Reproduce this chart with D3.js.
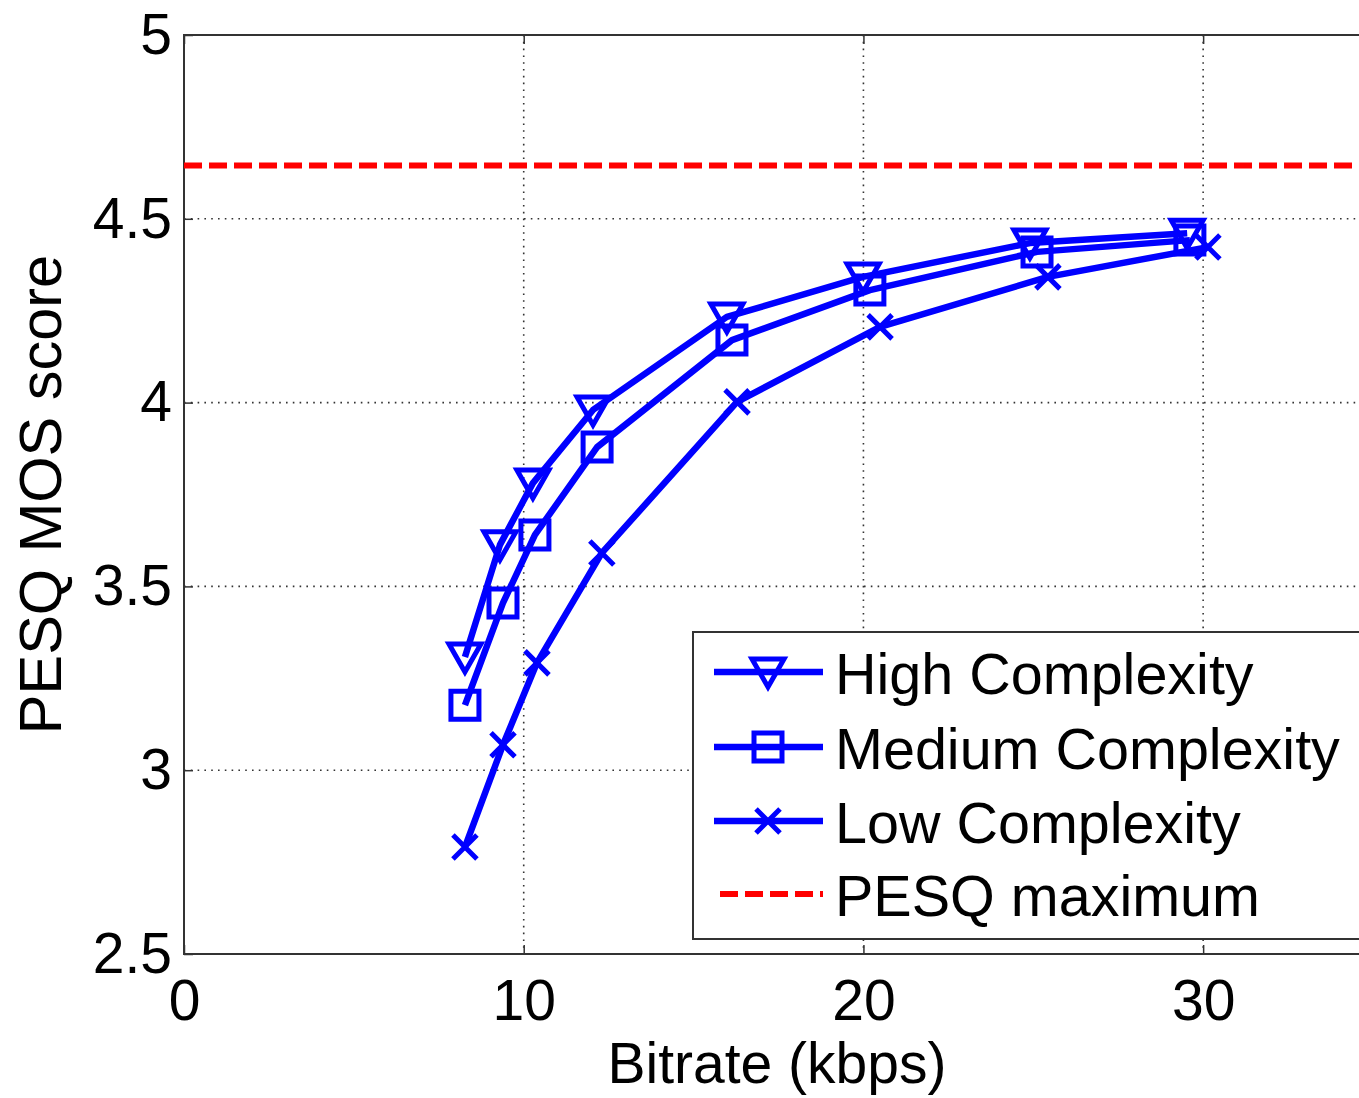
<!DOCTYPE html>
<html>
<head>
<meta charset="utf-8">
<script src="https://cdn.jsdelivr.net/npm/d3@7"></script>
<style>
  body { margin: 0; background: #fff; }
  text { font-family: "Liberation Sans", Arial, sans-serif; fill: #000; }
</style>
</head>
<body>
<div id="chart"></div>
<script>
// data
var highX = [8.27, 9.30, 10.27, 12.04, 15.98, 19.99, 24.90, 29.53];
var highY = [3.308, 3.613, 3.781, 3.980, 4.233, 4.342, 4.434, 4.461];
var medX  = [8.27, 9.39, 10.33, 12.16, 16.13, 20.19, 25.11, 29.61];
var medY  = [3.177, 3.455, 3.640, 3.879, 4.170, 4.306, 4.410, 4.442];
var lowX  = [8.27, 9.39, 10.39, 12.30, 16.28, 20.49, 25.43, 30.14];
var lowY  = [2.791, 3.069, 3.292, 3.591, 4.002, 4.206, 4.342, 4.423];
var pesqMax = 4.645;
var xTicks = [0, 10, 20, 30];
var yTicks = [2.5, 3, 3.5, 4, 4.5, 5];
var legendLabels = ["High Complexity", "Medium Complexity", "Low Complexity", "PESQ maximum"];

var W = 1359, H = 1098;
var margin = {top: 35, left: 184};
var plotW = 1189, plotH = 919;

var x = d3.scaleLinear().domain([0, 35]).range([0, plotW]);
var y = d3.scaleLinear().domain([2.5, 5]).range([plotH, 0]);

var svg = d3.select("#chart").append("svg")
    .attr("width", W)
    .attr("height", H);

var g = svg.append("g")
    .attr("transform", "translate(" + margin.left + "," + margin.top + ")");

// grid
g.selectAll(".gx")
    .data(xTicks.filter(function(d) { return d > 0; }))
  .enter().append("line")
    .attr("x1", function(d) { return x(d); })
    .attr("x2", function(d) { return x(d); })
    .attr("y1", 0).attr("y2", plotH)
    .style("stroke", "#333").style("stroke-width", 1.6)
    .style("stroke-dasharray", "1.6,5.2");

g.selectAll(".gy")
    .data(yTicks.filter(function(d) { return d > 2.5 && d < 5; }))
  .enter().append("line")
    .attr("x1", 0).attr("x2", plotW)
    .attr("y1", function(d) { return y(d); })
    .attr("y2", function(d) { return y(d); })
    .style("stroke", "#333").style("stroke-width", 1.6)
    .style("stroke-dasharray", "1.6,5.2");

// axes
var xAxis = g.append("g")
    .attr("transform", "translate(0," + plotH + ")")
    .call(d3.axisBottom(x).tickValues(xTicks).tickSizeInner(-9).tickSizeOuter(0).tickPadding(26));
var xTop = g.append("g")
    .call(d3.axisTop(x).tickValues(xTicks).tickSizeInner(-9).tickSizeOuter(0).tickFormat(""));
var yAxis = g.append("g")
    .call(d3.axisLeft(y).tickValues(yTicks).tickSizeInner(-9).tickSizeOuter(0).tickPadding(12)
      .tickFormat(function(d) { return d3.format("")(d); }));

[xAxis, xTop, yAxis].forEach(function(a) {
  a.select(".domain").remove();
  a.selectAll("line").style("stroke", "#333").style("stroke-width", 1.5);
  a.selectAll("text").style("font-size", "57px").style("font-family", "Liberation Sans, Arial, sans-serif").attr("fill", "#000");
});

// frame
g.append("rect")
    .attr("x", 0).attr("y", 0)
    .attr("width", plotW).attr("height", plotH)
    .style("fill", "none").style("stroke", "#333").style("stroke-width", 2);

// PESQ maximum
g.append("line")
    .attr("x1", 0).attr("x2", plotW)
    .attr("y1", y(pesqMax)).attr("y2", y(pesqMax))
    .style("stroke", "#ff0000").style("stroke-width", 6)
    .style("stroke-dasharray", "18,7");

var blue = "#0000ff";
var line = d3.line()
    .x(function(d) { return x(d[0]); })
    .y(function(d) { return y(d[1]); });

function markerPath(type) {
  if (type === "tri") return "M-16,-13L16,-13L0,15Z";
  if (type === "sq") return "M-14,-14L14,-14L14,14L-14,14Z";
  return "M-12,-12L12,12M-12,12L12,-12";
}

var series = [
  {xs: highX, ys: highY, m: "tri"},
  {xs: medX, ys: medY, m: "sq"},
  {xs: lowX, ys: lowY, m: "x"}
];

series.forEach(function(s) {
  var pts = s.xs.map(function(v, i) { return [v, s.ys[i]]; });
  g.append("path")
      .datum(pts)
      .attr("d", line)
      .style("fill", "none").style("stroke", blue)
      .style("stroke-width", 6.5).style("stroke-linejoin", "round");
  g.selectAll(".m-" + s.m)
      .data(pts)
    .enter().append("path")
      .attr("class", "m-" + s.m)
      .attr("transform", function(d) { return "translate(" + x(d[0]) + "," + y(d[1]) + ")"; })
      .attr("d", markerPath(s.m))
      .style("fill", "none").style("stroke", blue).style("stroke-width", 5);
});

// axis titles
svg.append("text")
    .attr("x", 777).attr("y", 1083)
    .style("text-anchor", "middle").style("font-size", "57px")
    .text("Bitrate (kbps)");

svg.append("text")
    .attr("transform", "translate(61," + (margin.top + plotH / 2) + ") rotate(-90)")
    .style("text-anchor", "middle").style("font-size", "59.5px")
    .text("PESQ MOS score");

// legend
var leg = svg.append("g").attr("transform", "translate(693,632)");
leg.append("rect")
    .attr("width", 720).attr("height", 307)
    .style("fill", "#fff").style("stroke", "#333").style("stroke-width", 2);

var rowY = [40, 115, 189, 262];
var legMarks = ["tri", "sq", "x", null];
legendLabels.forEach(function(lab, i) {
  var row = leg.append("g").attr("transform", "translate(0," + rowY[i] + ")");
  if (legMarks[i]) {
    row.append("line").attr("x1", 21).attr("x2", 130)
        .style("stroke", blue).style("stroke-width", 6.5);
    row.append("path").attr("transform", "translate(75,0)")
        .attr("d", markerPath(legMarks[i]))
        .style("fill", "none").style("stroke", blue).style("stroke-width", 5);
  } else {
    row.append("line").attr("x1", 27).attr("x2", 130)
        .style("stroke", "#ff0000").style("stroke-width", 6)
        .style("stroke-dasharray", "18,7");
  }
  row.append("text")
      .attr("x", 142).attr("y", 22)
      .style("font-size", "57.5px")
      .text(lab);
});
</script>
</body>
</html>
